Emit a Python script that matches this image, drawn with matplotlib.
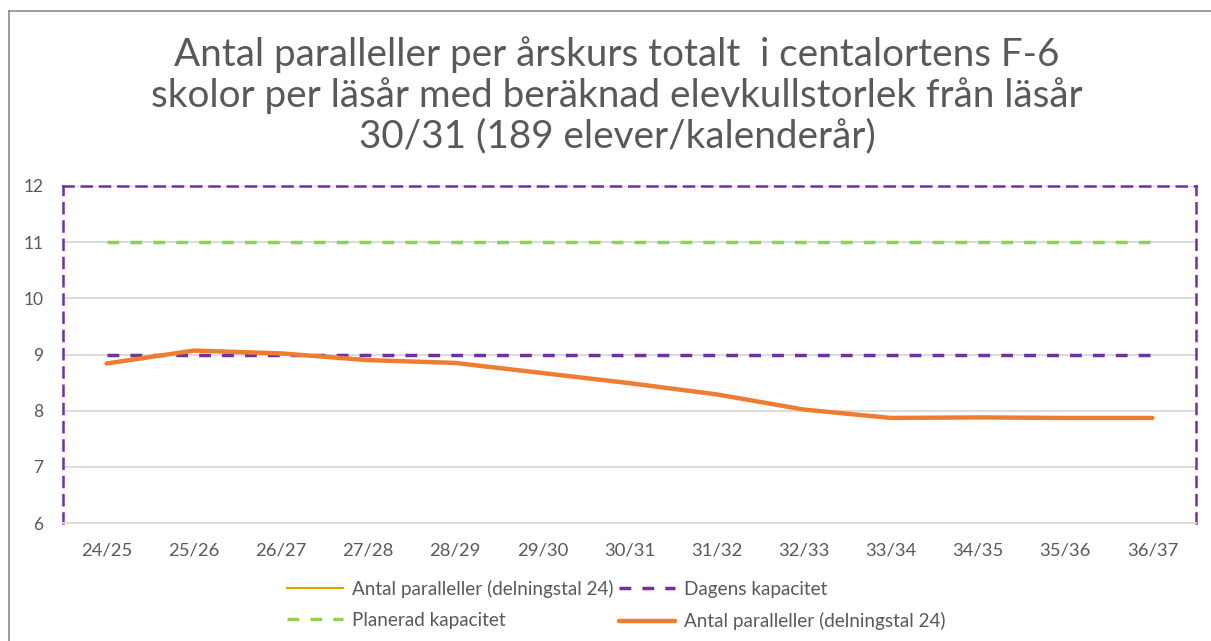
import matplotlib
matplotlib.use('Agg')
import matplotlib.pyplot as plt
from matplotlib.lines import Line2D

plt.rcParams['font.family'] = ['Lato', 'DejaVu Sans']

# data
lasar = ['24/25', '25/26', '26/27', '27/28', '28/29', '29/30', '30/31',
         '31/32', '32/33', '33/34', '34/35', '35/36', '36/37']
antal_paralleller = [8.84, 9.07, 9.02, 8.90, 8.85, 8.67, 8.49,
                     8.29, 8.02, 7.87, 7.88, 7.87, 7.87]
dagens_kapacitet = [9] * 13
planerad_kapacitet = [11] * 13

titel = ('Antal paralleller per årskurs totalt  i centalortens F-6\n'
         'skolor per läsår med beräknad elevkullstorlek från läsår\n'
         '30/31 (189 elever/kalenderår)')

grey = '#595959'
fig = plt.figure(figsize=(12.11, 6.41), dpi=100)
ax = fig.add_axes([63 / 1211, 1 - 523 / 641, (1196 - 63) / 1211, (523 - 186) / 641])

x = [i + 0.5 for i in range(len(lasar))]

# gul serie ligger under den orange
l_gul, = ax.plot(x, antal_paralleller, color='#E3A800', lw=1.6, zorder=2)
l_dag, = ax.plot(x, dagens_kapacitet, color='#7030A0', lw=2.5, ls=(0, (3.4, 3.2)), zorder=3)
l_plan, = ax.plot(x, planerad_kapacitet, color='#92D050', lw=2.5, ls=(0, (3.4, 3.2)), zorder=3)
l_or, = ax.plot(x, antal_paralleller, color='#ED7D31', lw=3.2, zorder=4,
                solid_capstyle='round')

ax.set_xlim(0, 13)
ax.set_ylim(6, 12)
ax.set_yticks(range(6, 13))
ax.set_xticks(x)
ax.set_xticklabels(lasar)
ax.tick_params(length=0, labelsize=13.3, colors=grey)
ax.tick_params(axis='y', labelsize=12.5, pad=14)
ax.tick_params(axis='x', pad=14)
ax.grid(axis='y', color='#D9D9D9', lw=1.3)
ax.set_axisbelow(True)

for s in ['left', 'top', 'right']:
    ax.spines[s].set_color('#7030A0')
    ax.spines[s].set_linestyle((0, (4, 3.3)))
    ax.spines[s].set_linewidth(1.8)
ax.spines['bottom'].set_color('#D9D9D9')
ax.spines['bottom'].set_linewidth(1.3)

fig.text(617 / 1211, 1 - 95 / 641, titel, ha='center', va='center',
         fontsize=27.8, color=grey, linespacing=1.15)

fig.legend([l_gul, l_plan, l_dag, l_or],
           ['Antal paralleller (delningstal 24)', 'Planerad kapacitet',
            'Dagens kapacitet', 'Antal paralleller (delningstal 24)'],
           ncol=2, loc='center', bbox_to_anchor=(616 / 1211, 1 - 605 / 641),
           frameon=False, fontsize=13.6, labelcolor=grey, handlelength=3.0,
           columnspacing=0.3, handletextpad=0.45, labelspacing=0.75)

# yttre ram
fig.add_artist(Line2D([8.5 / 1211, 8.5 / 1211], [0, 1 - 11 / 641], color='#8C8C8C', lw=1.2))
fig.add_artist(Line2D([8.5 / 1211, 1], [1 - 11 / 641, 1 - 11 / 641], color='#8C8C8C', lw=1.2))

fig.savefig('out.png', dpi=100)
